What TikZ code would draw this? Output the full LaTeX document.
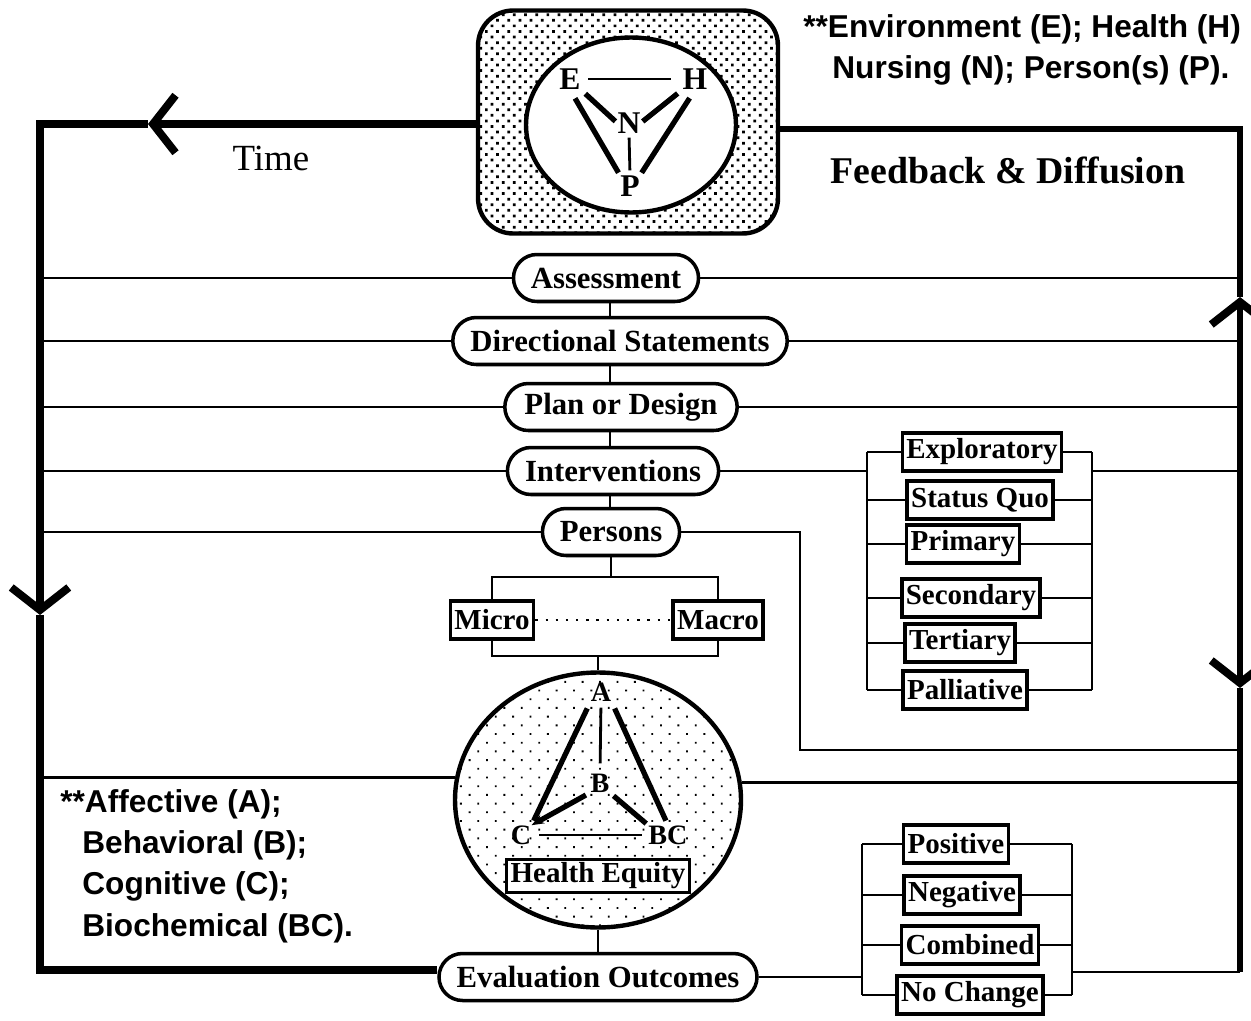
\documentclass[tikz,border=0pt]{standalone}
\usepackage{fontspec}
\setmainfont{Liberation Serif}
\setsansfont{Liberation Sans}
\usetikzlibrary{arrows.meta, positioning, shapes.misc, shapes.geometric, patterns.meta}

\begin{document}
\begin{tikzpicture}[
        x=0.02cm, y=-0.02cm,
        stage/.style={rounded rectangle, draw, line width=2pt, fill=white, minimum height=0.94cm, inner xsep=0.3cm, font=\fontsize{17.5}{20}\selectfont\bfseries},
        tag/.style={rectangle, draw, line width=2pt, fill=white, minimum height=0.76cm, inner xsep=0.08cm, inner ysep=0pt, font=\fontsize{16.5}{18}\selectfont\bfseries},
        letter/.style={inner sep=0pt, font=\fontsize{18}{20}\selectfont\bfseries},
        subletter/.style={inner sep=0pt, font=\fontsize{16}{18}\selectfont\bfseries},
        heading/.style={font=\fontsize{21}{24}\selectfont},
        note/.style={align=left, inner sep=0pt, font=\sffamily\bfseries\fontsize{18}{23.5}\selectfont},
        ring/.style={line width=3.5pt},
        heavy ring/.style={line width=5pt},
        conn/.style={line width=1.6pt},
        bond/.style={line width=3pt},
        barb/.style={-{Straight Barb[length=0.45cm, width=1.15cm, line width=4.5pt]}},
    ]
        \useasboundingbox (0,0) rectangle (1251,1021);

        % Metaparadigm box
        \node[draw, line width=2.5pt, rounded corners=0.7cm, minimum width=6cm, minimum height=4.46cm, pattern={Dots[distance=4.5pt, radius=1.1pt, angle=45]}] (model) at (628,122) {};
        \node[ellipse, draw, line width=2.5pt, fill=white, minimum width=4.2cm, minimum height=3.5cm] (meta) at (631,125) {};
        \node[letter] (E) at (570,79) {E};
        \node[letter] (H) at (695,79) {H};
        \node[letter] (N) at (629,123) {N};
        \node[letter] (P) at (630,186) {P};

        \draw[conn, shorten <=0.15cm, shorten >=0.22cm] (E.east) -- (H.west);
        \draw[bond, shorten <=0.12cm, shorten >=0.05cm] (E.south east) -- (N.west);
        \draw[bond, shorten <=0.12cm, shorten >=0.05cm] (H.south west) -- (N.east);
        \draw[bond, shorten <=0.2cm, shorten >=0.06cm] (E.south) -- (P.north west);
        \draw[bond, shorten <=0.2cm, shorten >=0.06cm] (H.south) -- (P.north east);
        \draw[conn, shorten <=0.08cm, shorten >=0.1cm] (N.south) -- (P.north);

        % Notes and labels
        \node[note, anchor=north west] (metakey) at (803,14) {**Environment (E); Health (H)\\\hspace*{0.58cm}Nursing (N); Person(s) (P).};
        \node[heading] (time) at (271,158) {Time};
        \node[heading, font=\fontsize{21.5}{24}\selectfont\bfseries] (feedback) at (1008,170) {Feedback \& Diffusion};
        \node[note, anchor=north west] (domainkey) at (60,789) {**Affective (A);\\\hspace*{0.44cm}Behavioral (B);\\\hspace*{0.44cm}Cognitive (C);\\\hspace*{0.44cm}Biochemical (BC).};

        % Process stages
        \node[stage] (assess) at (606,278) {Assessment};
        \node[stage] (direct) at (620,341) {Directional Statements};
        \node[stage] (plan) at (621,407) {Plan or Design};
        \node[stage] (interv) at (613,471) {Interventions};
        \node[stage] (persons) at (611,532) {Persons};
        \node[stage] (eval) at (598,977) {Evaluation Outcomes};

        % Persons levels
        \node[tag] (micro) at (492,620) {Micro};
        \node[tag] (macro) at (718,620) {Macro};

        % Domains
        \node[ellipse, draw, line width=2.5pt, minimum width=5.72cm, minimum height=5.1cm, pattern={Dots[distance=7pt, radius=0.75pt, angle=45]}] (domain) at (598,800) {};
        \node[subletter] (A) at (601,692) {A};
        \node[subletter] (B) at (600,783) {B};
        \node[subletter] (C) at (521,835) {C};
        \node[subletter] (BC) at (668,835) {BC};
        \node[tag, minimum height=0.66cm] (equity) at (598,876) {Health Equity};

        % Prevention levels
        \node[tag] (explor) at (982,452) {Exploratory};
        \node[tag] (status) at (980,500) {Status Quo};
        \node[tag] (primary) at (963,544) {Primary};
        \node[tag] (second) at (971,598) {Secondary};
        \node[tag] (tert) at (960,643) {Tertiary};
        \node[tag] (pallia) at (965,690) {Palliative};

        % Outcomes
        \node[tag] (positive) at (956,844) {Positive};
        \node[tag] (negative) at (962,895) {Negative};
        \node[tag] (combined) at (970,945) {Combined};
        \node[tag] (nochange) at (970,995) {No Change};

        % Outer loop
        \coordinate (tl) at (40,124);
        \coordinate (bl) at (40,970);
        \coordinate (tr) at (1240,129);
        \coordinate (br) at (1240,972);
        \coordinate (timetip) at (148,124);
        \coordinate (falltip) at (40,615);
        \coordinate (risetip) at (1240,297);
        \coordinate (droptip) at (1240,688);
        \coordinate (split) at (interv.east -| tr);

        \draw[heavy ring, barb] (model.west |- tl) -- (timetip);
        \draw[heavy ring, barb] (timetip) -- (tl) -- (falltip);
        \draw[heavy ring] (falltip) -- (bl) -- (eval.west |- bl);
        \draw[ring, barb] (split) -- (risetip);
        \draw[ring] (risetip) -- (tr) -- (model.east |- tr);
        \draw[ring, barb] (split) -- (droptip);
        \draw[ring] (droptip) -- (br);

        % Spine
        \coordinate (spine) at (610,0);
        \foreach \a/\b in {assess/direct, direct/plan, plan/interv, interv/persons}
            \draw[conn] (\a.south -| spine) -- (\b.north -| spine);
        \foreach \s in {assess, direct, plan, interv, persons}
            \draw[conn] (\s.west) -- (\s.west -| tl);
        \foreach \s in {assess, direct, plan}
            \draw[conn] (\s.east) -- (\s.east -| tr);

        % Persons branch
        \coordinate (pturn) at (800,750);
        \draw[conn] (persons.east) -| (pturn) -- (pturn -| tr);
        \coordinate (ptop) at (611,577);
        \coordinate (pbot) at (598,656);
        \draw[conn] (persons.south) -- (ptop);
        \draw[conn] (micro.north) |- (ptop) -| (macro.north);
        \draw[conn] (micro.south) |- (pbot) -| (macro.south);
        \draw[line width=1.3pt, dash pattern=on 1.3pt off 4.5pt] (micro.east) -- (macro.west);
        \draw[conn] (pbot) -- (domain.north);

        % Domain triangle
        \draw[conn, shorten <=0.12cm, shorten >=0.2cm] (A.south) -- (B.north);
        \draw[bond, shorten <=0.15cm, shorten >=0.1cm] (A.south west) -- (C.north east);
        \draw[bond, shorten <=0.15cm, shorten >=0.1cm] (A.south east) -- (BC.north);
        \draw[bond, -{Stealth[length=2.5mm]}, shorten <=0.1cm] (B.south west) -- (C.north east);
        \draw[bond, shorten <=0.1cm, shorten >=0.05cm] (B.south east) -- (BC.north west);
        \draw[conn, shorten <=0.15cm, shorten >=0.12cm] (C.east) -- (BC.west);
        \draw[conn] (domain.171) -- (domain.171 -| tl);
        \draw[conn] (domain.7) -- (domain.7 -| tr);
        \draw[conn] (domain.south) -- (eval.north);

        % Prevention group
        \coordinate (pleft) at (867,0);
        \coordinate (pright) at (1092,0);
        \foreach \b in {explor, status, primary, second, tert, pallia}
            \draw[conn] (\b.west -| pleft) -- (\b.west) (\b.east) -- (\b.east -| pright);
        \draw[conn] (explor.west -| pleft) -- (pallia.west -| pleft);
        \draw[conn] (explor.east -| pright) -- (pallia.east -| pright);
        \draw[conn] (interv.east) -- (interv.east -| pleft);
        \draw[conn] (interv.east -| pright) -- (split);

        % Outcome group
        \coordinate (oleft) at (862,0);
        \coordinate (oright) at (1072,0);
        \foreach \b in {positive, negative, combined, nochange}
            \draw[conn] (\b.west -| oleft) -- (\b.west) (\b.east) -- (\b.east -| oright);
        \draw[conn] (positive.west -| oleft) -- (nochange.west -| oleft);
        \draw[conn] (positive.east -| oright) -- (nochange.east -| oright);
        \draw[conn] (eval.east) -- (eval.east -| oleft);
        \draw[conn] (br -| oright) -- (br);
    \end{tikzpicture}
\end{document}
